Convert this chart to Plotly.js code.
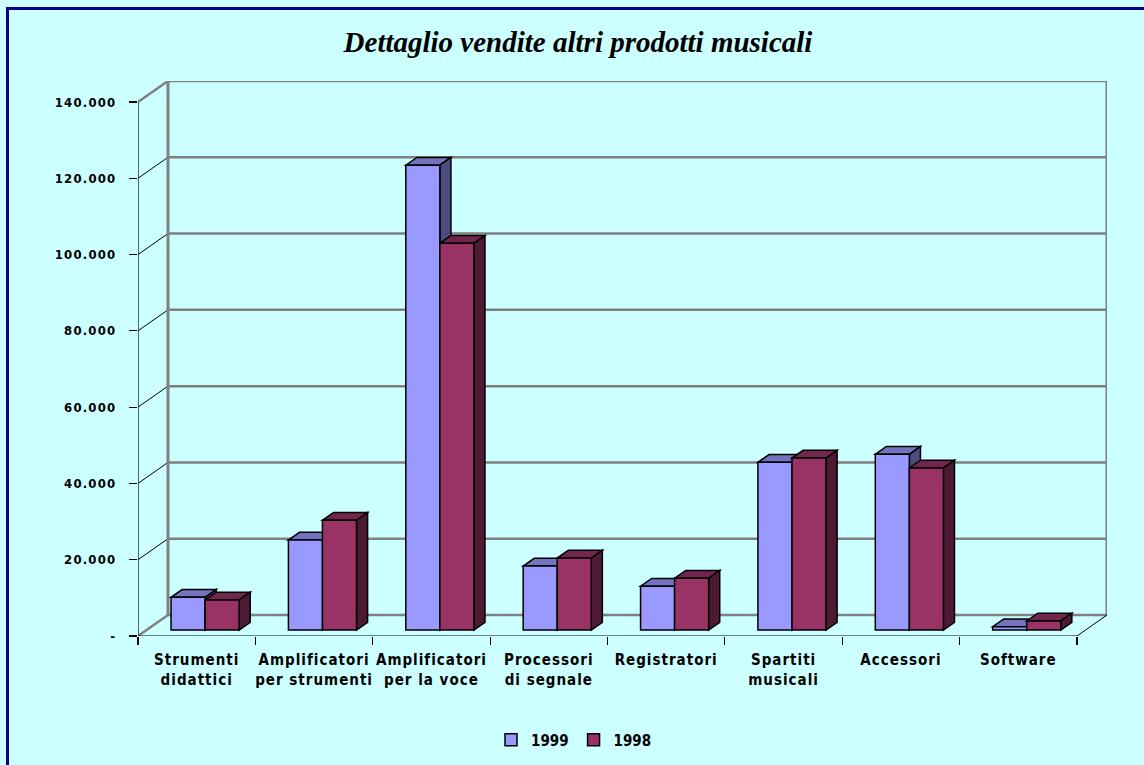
<!DOCTYPE html>
<html>
<head>
<meta charset="utf-8">
<script src="https://cdn.plot.ly/plotly-3.0.1.min.js"></script>
<style>
html, body { margin:0; padding:0; background:#CCFFFF; overflow:hidden; }
#chart { width:1144px; height:765px; position:absolute; left:0; top:0; }
#frame { position:absolute; left:6px; top:7px; width:1200px; height:800px;
         border-left:3px solid #000080; border-top:3px solid #000080; pointer-events:none; }
.xtick text { letter-spacing:1px; }
.ytick text { letter-spacing:1.2px; }
</style>
</head>
<body>
<div id="chart"></div>
<div id="frame"></div>
<script>
// ---- data ----
const categories = [
  "Strumenti<br>didattici",
  "Amplificatori<br>per strumenti",
  "Amplificatori<br>per la voce",
  "Processori<br>di segnale",
  "Registratori",
  "Spartiti<br>musicali",
  "Accessori",
  "Software"
];
const seriesNames = ["1999", "1998"];
const sales1999 = [8600, 23600, 121900, 16800, 11500, 44000, 46100, 900];
const sales1998 = [7900, 28800, 101400, 18900, 13600, 45100, 42500, 2400];
const yTickValues = [0, 20000, 40000, 60000, 80000, 100000, 120000, 140000];
const yTickLabels = ["-", "20.000", "40.000", "60.000", "80.000", "100.000", "120.000", "140.000"];

// ---- 3D geometry (axis units) ----
const DEPTH_X = 0.2555;     // full floor depth, x units
const DEPTH_Y = 5505;       // full floor depth, y units
const BAR_POS = 0.28;       // depth fraction where bar fronts sit
const BAR_DEPTH = 0.37;     // bar depth as fraction of floor depth
const BAR_W = 0.29;
const Y_MAX = yTickValues[yTickValues.length - 1];
const N = categories.length;

const faceColors = {
  "1999": {front:"#9999FF", top:"#7373BF", side:"#4C4C80"},
  "1998": {front:"#993366", top:"#73264D", side:"#4D1A33"}
};

const xLeft = -0.5, xRight = N - 0.5;
const bx = xLeft + DEPTH_X;
const shapes = [];
const gray = "#808080";

// back wall grid lines and diagonals
yTickValues.forEach((v, i) => {
  const edge = (i === 0 || i === yTickValues.length - 1);
  shapes.push({type:"line", xref:"x", yref:"y", layer:"below",
    x0: bx, x1: xRight + DEPTH_X, y0: v + DEPTH_Y, y1: v + DEPTH_Y,
    line:{color: gray, width: 2.5}});
  shapes.push({type:"line", xref:"x", yref:"y", layer:"below",
    x0: xLeft, x1: bx, y0: v, y1: v + DEPTH_Y,
    line:{color: edge ? gray : "#000000", width: edge ? 2.5 : 1}});
});
// back wall verticals
[bx, xRight + DEPTH_X].forEach(xv => {
  shapes.push({type:"line", xref:"x", yref:"y", layer:"below",
    x0: xv, x1: xv, y0: DEPTH_Y, y1: Y_MAX + DEPTH_Y, line:{color: gray, width: 3}});
});
// right floor edge
shapes.push({type:"line", xref:"x", yref:"y", layer:"below",
  x0: xRight, x1: xRight + DEPTH_X, y0: 0, y1: DEPTH_Y, line:{color: "#000000", width: 1}});
// front axis lines
shapes.push({type:"line", xref:"x", yref:"y", layer:"above",
  x0: xLeft, x1: xRight, y0: 0, y1: 0, line:{color:"#000000", width:1.2}});
shapes.push({type:"line", xref:"x", yref:"y", layer:"above",
  x0: xLeft, x1: xLeft, y0: 0, y1: Y_MAX, line:{color:"#000000", width:1.2}});

// bar positions
const barX = categories.map((c, i) => i + BAR_POS * DEPTH_X);
const barBase = BAR_POS * DEPTH_Y;
const bdx = BAR_DEPTH * DEPTH_X, bdy = BAR_DEPTH * DEPTH_Y;

const seriesData = {"1999": sales1999, "1998": sales1998};
const offsets = {"1999": -BAR_W, "1998": 0};

// top & side faces
categories.forEach((c, i) => {
  seriesNames.forEach(s => {
    const xl = barX[i] + offsets[s], xr = xl + BAR_W;
    const top = barBase + seriesData[s][i];
    const col = faceColors[s];
    shapes.push({type:"path", xref:"x", yref:"y", layer:"below",
      path:`M${xl},${top} L${xr},${top} L${xr+bdx},${top+bdy} L${xl+bdx},${top+bdy} Z`,
      fillcolor: col.top, line:{color:"#000000", width:1.5}});
    shapes.push({type:"path", xref:"x", yref:"y", layer:"below",
      path:`M${xr},${barBase} L${xr},${top} L${xr+bdx},${top+bdy} L${xr+bdx},${barBase+bdy} Z`,
      fillcolor: col.side, line:{color:"#000000", width:1.5}});
  });
});

const labelFont = {family:"Liberation Sans Narrow, DejaVu Sans Condensed, Liberation Sans, sans-serif", weight:"bold", color:"#000000"};

const traces = seriesNames.map(s => ({
  type:"bar", name:s, x: barX, y: seriesData[s], base: barBase,
  width: BAR_W, offset: offsets[s],
  marker:{color: faceColors[s].front, line:{color:"#000000", width:1.5}},
  hoverinfo:"skip"
}));
// carrier for the boundary tick axis
traces.push({type:"scatter", x:[0], y:[null], xaxis:"x2", yaxis:"y", mode:"none", showlegend:false, hoverinfo:"skip"});

const boundaries = Array.from({length: N + 1}, (_, i) => i - 0.5);

const layout = {
  width:1144, height:765, autosize:false,
  paper_bgcolor:"#CCFFFF", plot_bgcolor:"#CCFFFF",
  margin:{l:138, r:37, t:81, b:129},
  barmode:"overlay",
  showlegend:true,
  title:{text:"Dettaglio vendite altri prodotti musicali",
    font:{family:"Liberation Serif, Times New Roman, serif", size:29, weight:"bold", style:"italic", color:"#000000"},
    xref:"container", x:578/1144, xanchor:"center", yref:"container", y:1-42/765, yanchor:"middle"},
  xaxis:{range:[xLeft, xRight + DEPTH_X], tickmode:"array", tickvals: categories.map((c,i)=>i),
    ticktext: categories, ticks:"outside", ticklen:10, tickcolor:"rgba(0,0,0,0)",
    showgrid:false, zeroline:false, showline:false, fixedrange:true,
    tickfont:Object.assign({size:15}, labelFont)},
  xaxis2:{range:[xLeft, xRight + DEPTH_X], overlaying:"x", anchor:"y", side:"bottom",
    tickmode:"array", tickvals: boundaries, ticks:"outside", ticklen:8, tickwidth:1.2, tickcolor:"#000000",
    showticklabels:false, showgrid:false, zeroline:false, showline:false},
  yaxis:{range:[0, Y_MAX + DEPTH_Y], tickmode:"array", tickvals: yTickValues, ticktext: yTickLabels,
    ticks:"outside", ticklen:8, tickwidth:1.2, tickcolor:"#000000", ticklabelstandoff:10,
    showgrid:false, zeroline:false, showline:false,
    tickfont:Object.assign({size:13}, labelFont)},
  legend:{orientation:"h", xref:"container", x:574/1144, xanchor:"center",
    yref:"container", y:25/765, yanchor:"middle", bgcolor:"rgba(0,0,0,0)",
    font:Object.assign({size:15}, labelFont), itemwidth:30},
  shapes: shapes
};

Plotly.newPlot("chart", traces, layout, {staticPlot:true, displayModeBar:false});
</script>
</body>
</html>
